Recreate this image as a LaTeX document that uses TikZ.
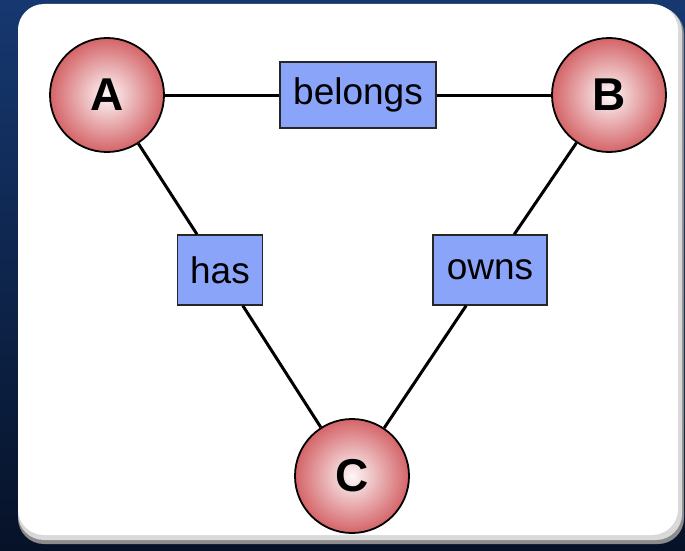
\documentclass[tikz,border=0pt]{standalone}
\usepackage{fontspec}
\setmainfont{Liberation Sans}
\usetikzlibrary{shadings}
\definecolor{bgdark}{RGB}{6,18,40}
\definecolor{bgblue}{RGB}{22,56,112}
\definecolor{pinkedge}{RGB}{212,100,104}
\definecolor{boxblue}{RGB}{138,164,250}
\tikzset{
  ent/.style={circle, draw=black, line width=1.8pt, minimum size=114pt, inner sep=0pt,
    inner color=white!95!pinkedge, outer color=pinkedge, font=\fontsize{46}{46}\selectfont\bfseries},
  rel/.style={draw=black!85, line width=1.3pt, fill=boxblue, inner sep=0pt, font=\fontsize{37}{37}\selectfont},
  link/.style={line width=3pt, black}
}
\begin{document}
\begin{tikzpicture}[x=1pt,y=-1pt]
\useasboundingbox (0,0) rectangle (685,551);
\shade[top color=bgblue, bottom color=bgdark] (0,0) rectangle (685,551);
\fill[black!45, rounded corners=26pt] (18,8) rectangle (684,544);
\fill[white!85!black, rounded corners=26pt] (18,6) rectangle (682,540);
\fill[white, rounded corners=26pt] (18,4) rectangle (678,535);
\node[ent] (A) at (107,95) {A};
\node[ent] (B) at (609,95) {B};
\node[ent] (C) at (352,476) {C};
\node[rel, minimum width=156pt, minimum height=66pt] (belongs) at (358,95) {belongs};
\node[rel, minimum width=85pt, minimum height=70pt] (has) at (220,270) {has};
\node[rel, minimum width=114pt, minimum height=70pt] (owns) at (490,270) {owns};
\draw[link] (A) -- (belongs);
\draw[link] (belongs) -- (B);
\draw[link] (A) -- (has);
\draw[link] (has) -- (C);
\draw[link] (B) -- (owns);
\draw[link] (owns) -- (C);
\end{tikzpicture}
\end{document}
